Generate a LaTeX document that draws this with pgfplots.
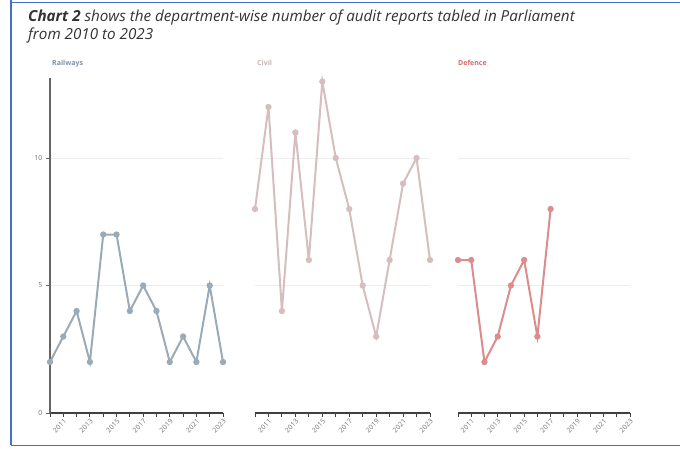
\documentclass[border=0pt]{standalone}
\usepackage{fontspec}
\setmainfont{Open Sans}
\usepackage{pgfplots}
\pgfplotsset{compat=1.18}
\definecolor{rail}{HTML}{9AABB7}
\definecolor{civil}{HTML}{D6BEBE}
\definecolor{def}{HTML}{DC8C8C}
\definecolor{railt}{HTML}{7E93A8}
\definecolor{civilt}{HTML}{C9B4B4}
\definecolor{deft}{HTML}{D46A6A}
\definecolor{frame}{HTML}{4472C4}
\definecolor{tit}{HTML}{333333}
\pgfplotsset{
  panel/.style={
    scale only axis, width=#1, height=335.3pt,
    xmin=2010, xmax=2023, ymin=0, ymax=13.15,
    clip=false,
    /pgf/number format/assume math mode=true,
    /pgf/number format/1000 sep={},
    axis x line*=bottom,
    axis y line*=left,
    x axis line style={draw=black!75, line width=1.1pt, -},
    xtick={2011,2013,...,2023},
    minor xtick={2010,2012,...,2022},
    x tick label style={rotate=45, anchor=north east, font=\fontsize{6.8}{7}\selectfont, text=black!55, inner sep=1pt},
    tick align=outside, major tick length=4pt, minor tick length=4pt,
    x tick style={draw=black!75, line width=0.9pt},
    ytick={0,5,10},
    ymajorgrids, grid style={draw=black!7, line width=0.8pt},
    every axis plot/.append style={line width=2pt, mark=*, mark size=2.1pt},
  },
}
\begin{document}
\begin{tikzpicture}[x=1pt,y=1pt]
\useasboundingbox (0,0) rectangle (680,449);
\fill[white] (0,0) rectangle (680,449);
% frame
\draw[frame, line width=1.5pt] (11,449) -- (11,3.5);
\draw[frame, line width=1.5pt] (11,446.5) -- (680,446.5);
\draw[frame, line width=1.5pt] (11,3.5) -- (680,3.5);
% title
\node[anchor=base west, inner sep=0, font=\fontsize{15.2}{17}\selectfont\itshape, text=tit] at (28,427) {\textbf{Chart 2} shows the department-wise number of audit reports tabled in Parliament};
\node[anchor=base west, inner sep=0, font=\fontsize{15.2}{17}\selectfont\itshape, text=tit] at (28,409) {from 2010 to 2023};
% panel titles
\node[anchor=base west, inner sep=0, font=\fontsize{7}{8}\selectfont\bfseries, text=railt] at (52,383) {Railways};
\node[anchor=base west, inner sep=0, font=\fontsize{7}{8}\selectfont\bfseries, text=civilt] at (257,383) {Civil};
\node[anchor=base west, inner sep=0, font=\fontsize{7}{8}\selectfont\bfseries, text=deft] at (458,383) {Defence};

\begin{axis}[panel=173pt, at={(50pt,36pt)}, anchor=south west,
  y axis line style={draw=black!60, line width=1.1pt, -},
  y tick style={draw=black!60, line width=0.9pt},
  y tick label style={font=\fontsize{7}{8}\selectfont, text=black!55}]
\addplot[color=rail] coordinates {
(2010,2) (2011,3) (2012,4) (2013,2) (2014,7) (2015,7) (2016,4)
(2017,5) (2018,4) (2019,2) (2020,3) (2021,2) (2022,5) (2023,2)};
\end{axis}

\begin{axis}[panel=175pt, at={(255pt,36pt)}, anchor=south west,
  y axis line style={draw=none}, y tick style={draw=none}, yticklabels={}]
\addplot[color=civil] coordinates {
(2010,8) (2011,12) (2012,4) (2013,11) (2014,6) (2015,13) (2016,10)
(2017,8) (2018,5) (2019,3) (2020,6) (2021,9) (2022,10) (2023,6)};
\end{axis}

\begin{axis}[panel=172pt, at={(458pt,36pt)}, anchor=south west,
  y axis line style={draw=none}, y tick style={draw=none}, yticklabels={}]
\addplot[color=def] coordinates {
(2010,6) (2011,6) (2012,2) (2013,3) (2014,5) (2015,6) (2016,3) (2017,8)};
\end{axis}
\end{tikzpicture}
\end{document}
